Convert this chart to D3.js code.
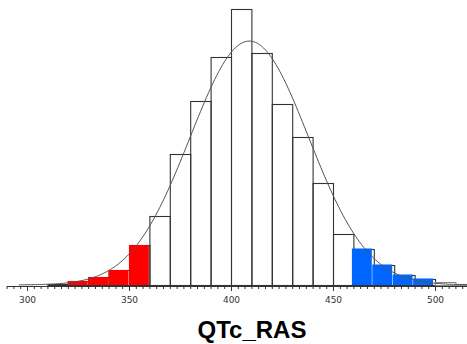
<!DOCTYPE html>
<html>
<head>
<meta charset="utf-8">
<script src="https://cdn.jsdelivr.net/npm/d3@7"></script>
<style>
  body { margin: 0; background: #fff; }
  svg { display: block; }
  .axis text { font-family: "DejaVu Sans", sans-serif; font-size: 9px; fill: #333; }
  .axis line, .axis path { stroke: #333; }
</style>
</head>
<body>
<svg width="467" height="344"></svg>
<script>
// bin lower edges (width 10) and counts
const binStarts = [310, 320, 330, 340, 350, 360, 370, 380, 390, 400, 410, 420, 430, 440, 450, 460, 470, 480, 490, 500, 510];
const counts    = [2,   8,   16,  30,  80,  138, 262, 368, 456, 552, 464, 362, 296, 204, 102, 72,  40,  20,  12,  6,   2];
const lowTail   = [320, 330, 340, 350];       // red bins
const highTail  = [460, 470, 480, 490];       // blue bins
const majorTicks = [300, 350, 400, 450, 500];
// normal fit overlay
const fitMean = 409, fitSd = 29, fitPeak = 488;

const svg = d3.select("svg");
const base = 285;

const x = d3.scaleLinear().domain([300, 500]).range([27, 435]);
const y = d3.scaleLinear().domain([0, 560]).range([base, 5]);

const bins = binStarts.map((b, i) => ({ x0: b, x1: b + 10, n: counts[i] }));

// outlined histogram
svg.append("g").selectAll("rect")
    .data(bins)
    .enter().append("rect")
    .attr("x", d => x(d.x0) + 0.5)
    .attr("y", d => y(d.n) + 0.5)
    .attr("width", d => x(d.x1) - x(d.x0))
    .attr("height", d => base - y(d.n))
    .attr("fill", "none")
    .attr("stroke", d => d.x0 >= 500 ? "#888" : "#333")
    .attr("stroke-width", 1.1);

// coloured tails
svg.append("g").selectAll("rect")
    .data(bins.filter(d => lowTail.includes(d.x0)))
    .enter().append("rect")
    .attr("x", d => x(d.x0))
    .attr("y", d => y(d.n))
    .attr("width", d => x(d.x1) - x(d.x0) - 0.5)
    .attr("height", d => base - y(d.n))
    .attr("fill", "#ff0000");

svg.append("g").selectAll("rect")
    .data(bins.filter(d => highTail.includes(d.x0)))
    .enter().append("rect")
    .attr("x", d => x(d.x0) - 1.5)
    .attr("y", d => y(d.n) - 0.5)
    .attr("width", d => x(d.x1) - x(d.x0) - 0.5)
    .attr("height", d => base - y(d.n) + 0.5)
    .attr("fill", "#0066ff");

// fitted normal curve
const curveX = d3.range(296, 521, 1);
svg.append("path")
    .datum(curveX)
    .attr("fill", "none")
    .attr("stroke", "#555")
    .attr("stroke-width", 1)
    .attr("d", d3.line()
        .x(v => x(v))
        .y(v => y(fitPeak * Math.exp(-0.5 * Math.pow((v - fitMean) / fitSd, 2))))
        .curve(d3.curveBasis));

// axis
const axisG = svg.append("g").attr("class", "axis").attr("transform", "translate(0," + (base + 1) + ")");
axisG.append("line")
    .attr("x1", 7).attr("x2", 467)
    .attr("y1", 0.5).attr("y2", 0.5)
    .attr("stroke", "#333");

const minorTicks = d3.range(0, 68).map(i => 290 + i * 10 / 3)
    .filter(v => !majorTicks.some(m => Math.abs(m - v) < 0.01));

axisG.append("g")
    .call(d3.axisBottom(x).tickValues(minorTicks).tickSize(3).tickFormat(""))
    .call(g => g.select(".domain").remove());

axisG.append("g")
    .call(d3.axisBottom(x).tickValues(majorTicks).tickSize(5).tickPadding(6).tickFormat(d3.format("d")))
    .call(g => g.select(".domain").remove());

// title
svg.append("text")
    .attr("x", 252)
    .attr("y", 338)
    .attr("text-anchor", "middle")
    .style("font-family", "Liberation Sans, Arial, sans-serif")
    .style("font-weight", "bold")
    .style("font-size", "24px")
    .text("QTc_RAS");
</script>
</body>
</html>
